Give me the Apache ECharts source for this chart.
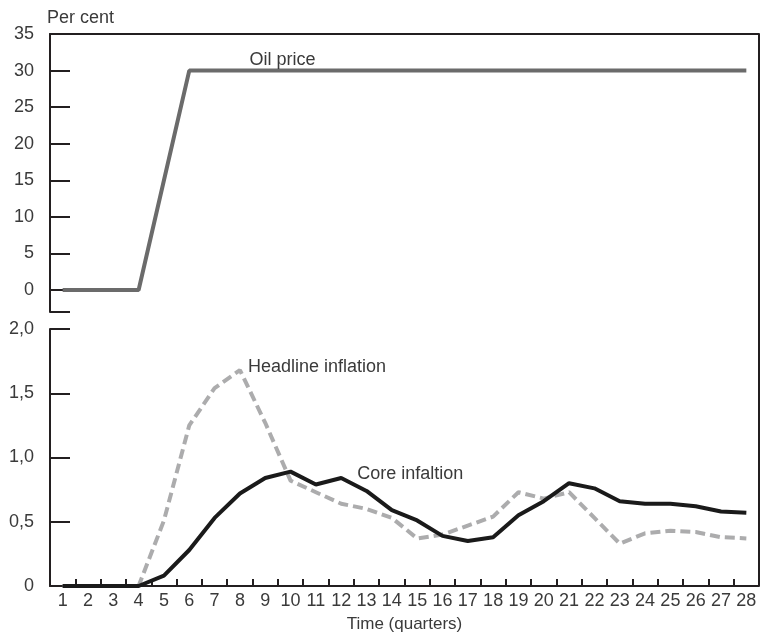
<!DOCTYPE html>
<html>
<head>
<meta charset="utf-8">
<script src="https://cdn.jsdelivr.net/npm/echarts@6/dist/echarts.min.js"></script>
<style>
  html, body { margin: 0; padding: 0; background: #fff; }
  #chart { width: 760px; height: 634px; }
</style>
</head>
<body>
<div id="chart"></div>
<script>
// x categories (quarters)
var quarters = ['1','2','3','4','5','6','7','8','9','10','11','12','13','14',
  '15','16','17','18','19','20','21','22','23','24','25','26','27','28'];
// top panel, per cent
var oilPrice = [0, 0, 0, 0, 15, 30, 30, 30, 30, 30, 30, 30, 30, 30,
  30, 30, 30, 30, 30, 30, 30, 30, 30, 30, 30, 30, 30, 30];
// bottom panel, per cent
var headline = [0, 0, 0, 0, 0.51, 1.25, 1.54, 1.68, 1.27, 0.82, 0.73, 0.64, 0.60, 0.53,
  0.37, 0.40, 0.47, 0.54, 0.73, 0.68, 0.73, 0.53, 0.33, 0.41, 0.43, 0.42, 0.38, 0.37];
var core = [0, 0, 0, 0, 0.08, 0.28, 0.53, 0.72, 0.84, 0.89, 0.79, 0.84, 0.74, 0.59,
  0.51, 0.39, 0.35, 0.38, 0.55, 0.66, 0.80, 0.76, 0.66, 0.64, 0.64, 0.62, 0.58, 0.57];
var oilTicks = [0, 5, 10, 15, 20, 25, 30, 35];

var myChart = echarts.init(document.getElementById('chart'), null, { renderer: 'canvas' });

var FONT = 'Liberation Sans, Arial, sans-serif';
var AXIS_COLOR = '#231f20';
var TEXT_COLOR = '#3a3a3a';
var FS = 18;

// layout of the two panels
var left = 50, right = 1;
var topTop = 34, topBottom = 312;
var botTop = 329, botBottom = 586;
var W = 760, H = 634;

// put a text label on one point only
function labelAt(arr, idx, label) {
  return arr.map(function (v, i) {
    return i === idx ? { value: v, label: label } : v;
  });
}

var labelText = { show: true, color: TEXT_COLOR, fontSize: FS, fontFamily: FONT };

var option = {
  animation: false,
  backgroundColor: '#fff',
  grid: [
    { left: left, right: right, top: topTop, height: topBottom - topTop },
    { left: left, right: right, top: botTop, bottom: H - botBottom }
  ],
  xAxis: [
    {
      gridIndex: 0,
      type: 'category',
      data: quarters,
      position: 'top',
      boundaryGap: true,
      axisLine: { show: true, onZero: false, lineStyle: { color: AXIS_COLOR, width: 2 } },
      axisTick: { show: false },
      axisLabel: { show: false },
      splitLine: { show: false }
    },
    {
      gridIndex: 1,
      type: 'category',
      data: quarters,
      boundaryGap: true,
      axisLine: { show: true, onZero: false, lineStyle: { color: AXIS_COLOR, width: 2 } },
      axisTick: { show: true, inside: true, length: 7, lineStyle: { color: AXIS_COLOR, width: 2 } },
      axisLabel: { color: TEXT_COLOR, fontSize: FS, fontFamily: FONT, margin: 6, interval: 0 },
      name: 'Time (quarters)',
      nameLocation: 'middle',
      nameGap: 30,
      nameTextStyle: { color: TEXT_COLOR, fontSize: 17, fontFamily: FONT },
      splitLine: { show: false }
    }
  ],
  yAxis: [
    {
      gridIndex: 0,
      type: 'value',
      min: -3,
      max: 35,
      name: 'Per cent',
      nameLocation: 'end',
      nameGap: 7,
      nameTextStyle: { color: TEXT_COLOR, fontSize: FS, fontFamily: FONT, align: 'left', padding: [0, 0, 0, -3] },
      axisLine: { show: true, lineStyle: { color: AXIS_COLOR, width: 2 } },
      axisTick: {
        show: true, inside: true, length: 20,
        customValues: [-3, 0, 5, 10, 15, 20, 25, 30],
        lineStyle: { color: AXIS_COLOR, width: 2 }
      },
      axisLabel: {
        customValues: oilTicks,
        color: TEXT_COLOR, fontSize: FS, fontFamily: FONT, margin: 16
      },
      splitLine: { show: false }
    },
    {
      gridIndex: 1,
      type: 'value',
      min: 0,
      max: 2,
      interval: 0.5,
      axisLine: { show: true, lineStyle: { color: AXIS_COLOR, width: 2 } },
      axisTick: { show: true, inside: true, length: 20, lineStyle: { color: AXIS_COLOR, width: 2 } },
      axisLabel: {
        color: TEXT_COLOR, fontSize: FS, fontFamily: FONT, margin: 16,
        formatter: function (v) { return v === 0 ? '0' : v.toFixed(1).replace('.', ','); }
      },
      splitLine: { show: false }
    }
  ],
  graphic: [
    {
      // right frame line, spans both panels
      type: 'line',
      shape: { x1: W - right, y1: topTop, x2: W - right, y2: botBottom },
      style: { stroke: AXIS_COLOR, lineWidth: 2 },
      z: 10
    }
  ],
  series: [
    {
      name: 'Oil price',
      type: 'line',
      xAxisIndex: 0,
      yAxisIndex: 0,
      data: labelAt(oilPrice, 9, Object.assign({}, labelText, {
        position: 'top', distance: 2, offset: [-8, 0], formatter: 'Oil price'
      })),
      showSymbol: true,
      symbol: 'circle',
      symbolSize: 0,
      lineStyle: { color: '#6b6b6b', width: 4 },
      z: 3
    },
    {
      name: 'Headline inflation',
      type: 'line',
      xAxisIndex: 1,
      yAxisIndex: 1,
      data: labelAt(headline, 7, Object.assign({}, labelText, {
        position: 'right', distance: 8, offset: [0, -3], formatter: 'Headline inflation'
      })),
      showSymbol: true,
      symbol: 'circle',
      symbolSize: 0,
      lineStyle: { color: '#acacad', width: 4, type: [10, 5] },
      z: 3
    },
    {
      name: 'Core infaltion',
      type: 'line',
      xAxisIndex: 1,
      yAxisIndex: 1,
      data: labelAt(core, 11, Object.assign({}, labelText, {
        position: 'right', distance: 16, offset: [0, -4], formatter: 'Core infaltion'
      })),
      showSymbol: true,
      symbol: 'circle',
      symbolSize: 0,
      lineStyle: { color: '#1a1a1a', width: 4 },
      z: 4
    }
  ]
};

myChart.setOption(option);
</script>
</body>
</html>
